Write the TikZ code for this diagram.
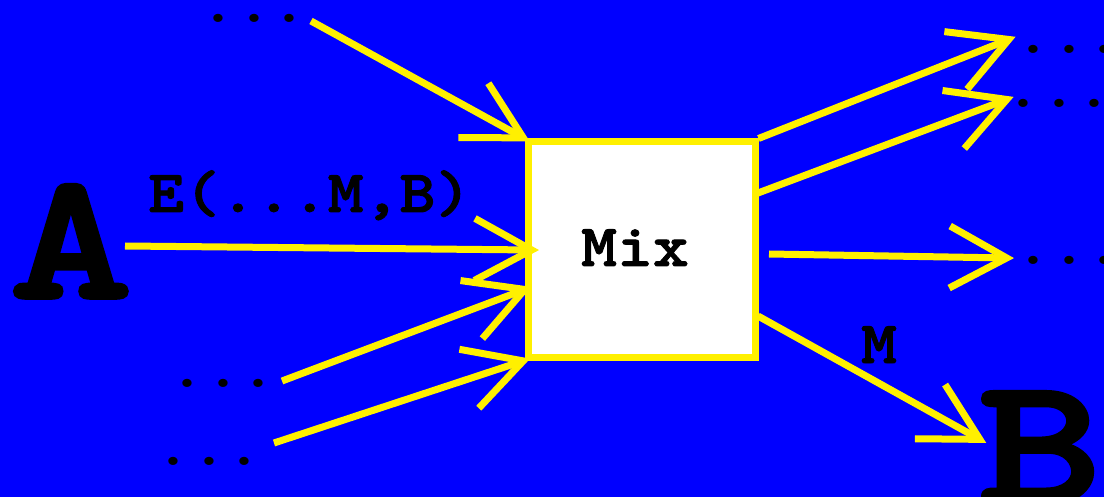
\documentclass[tikz,border=0pt]{standalone}
\usepackage{fontspec}
\newfontfamily\courb{lmmonolt10-bold}[Extension=.otf, FakeStretch=1.14, FakeBold=1.6]
\newfontfamily\courbig{lmmonolt10-bold}[Extension=.otf, FakeStretch=1.3, FakeBold=2]
\newfontfamily\courd{lmmonolt10-bold}[Extension=.otf, FakeStretch=1.14]
\usetikzlibrary{arrows.meta}
\definecolor{bg}{RGB}{0,0,255}
\definecolor{yel}{RGB}{255,240,0}
\tikzset{
  flow/.style={draw=yel, line width=7pt, shorten >=-6pt, -{Straight Barb[length=57pt,width=62pt,sharp]}},
  lbl/.style={inner sep=0pt, anchor=base, text=black, font=\courb\fontsize{60}{60}\selectfont},
  big/.style={inner sep=0pt, anchor=base, text=black, font=\courbig\fontsize{182}{182}\selectfont},
  dots/.style={inner sep=0pt, anchor=base, text=black, font=\courd\fontsize{60}{60}\selectfont},
  mixbox/.style={draw=yel, line width=7pt, fill=white, minimum width=227pt, minimum height=215pt, inner sep=0pt}
}
\begin{document}
\begin{tikzpicture}[x=1pt,y=-1pt]
\fill[bg] (0,0) rectangle (1104,497);
\useasboundingbox (0,0) rectangle (1104,497);
\node[mixbox] (box) at (641.5,249.5) {};
\node[lbl] (mix) at (635,266) {Mix};
\node[lbl, anchor=base west] (elbl) at (148,212) {E(...M,B)};
\node[lbl] (mlbl) at (879,363) {M};
\node[big] (A) at (71,298) {A};
\node[big] (B) at (1040,503) {B};
\node[dots] (d1) at (254,23) {...};
\node[dots] (d2) at (223,387) {...};
\node[dots] (d3) at (209,465) {...};
\node[dots] (d4) at (1069,54) {...};
\node[dots] (d5) at (1059,108) {...};
\node[dots] (d6) at (1069,265) {...};
\coordinate (s1) at (311,21);
\coordinate (sA) at (125,246);
\coordinate (tA) at (533,250);
\coordinate (s3) at (282,381);
\coordinate (t3) at (526,289);
\coordinate (s4) at (274,443);
\coordinate (t5) at (1010,39);
\coordinate (s6) at (758,193);
\coordinate (t6) at (1008,99);
\coordinate (s7) at (769,254);
\coordinate (t7) at (1008,258);
\coordinate (s8) at (758,316);
\coordinate (t8) at (981,440);
\draw[flow] (s1) -- (box.north west);
\draw[flow] (sA) -- (tA);
\draw[flow] (s3) -- (t3);
\draw[flow] (s4) -- (box.south west);
\draw[flow] (box.north east) -- (t5);
\draw[flow] (s6) -- (t6);
\draw[flow] (s7) -- (t7);
\draw[flow] (s8) -- (t8);
\end{tikzpicture}
\end{document}
